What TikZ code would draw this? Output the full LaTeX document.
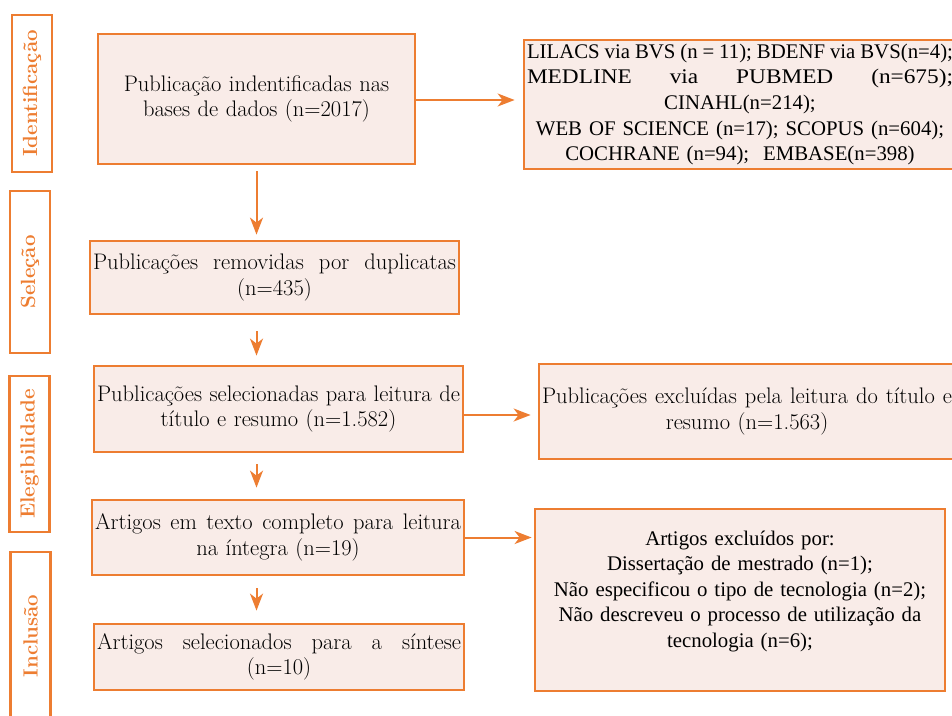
\documentclass[tikz,border=0pt]{standalone}
\usepackage{fontspec}
\usepackage{graphicx}
\newfontfamily\timesfont{Liberation Serif}
\usetikzlibrary{arrows.meta}
\definecolor{prismaorange}{RGB}{237,125,49}
\definecolor{prismafill}{RGB}{249,236,232}
\newcommand\fullline[1]{\makebox[\linewidth][s]{\spaceskip=0pt \xspaceskip=0pt #1}}
\newcommand\wide[1]{\scalebox{1.12}[1]{#1}}
\tikzset{% common styles of flow chart elements
  flowbox/.style  = {shape=rectangle, draw=prismaorange, fill=prismafill,
                     line width=2.8pt, align=center, inner xsep=3pt,
                     font=\fontsize{22.5}{25.5}\selectfont},
  sidebox/.style  = {flowbox, font=\timesfont\fontsize{20.8}{25.6}\selectfont},
  stage/.style    = {shape=rectangle, draw=prismaorange, line width=2.8pt,
                     rotate=90, text=prismaorange, minimum height=40pt,
                     font=\fontsize{20.5}{22}\selectfont\bfseries},
  arr/.style      = {draw=prismaorange, line width=2pt,
                     -{Stealth[length=17pt, width=13pt, inset=5pt]}},
}
\begin{document}
\begin{tikzpicture}[% pixel-like grid, y grows downwards
            x = 1pt, y = -1pt
        ]
        \useasboundingbox (0,0) rectangle (952,715);
        \clip (0,0) rectangle (952,715);
        % stages on the left
        \node [stage, minimum width=157] (s1) at (32,93.5)  {Identificação};
        \node [stage, minimum width=162] (s2) at (30,272)   {Seleção};
        \node [stage, minimum width=156] (s3) at (29.5,454) {Elegibilidade};
        \node [stage, minimum width=168] (s4) at (30.5,636) {Inclusão};
        % main column
        \node [flowbox, text width=311, minimum height=130] (b1) at (256.5,99)
              {Publicação indentificadas nas\\ bases de dados (n=2017)};
        \node [flowbox, text width=363, minimum height=73] (b2) at (274.5,277.5)
              {\fullline{Publicações removidas por duplicatas}\\ (n=435)};
        \node [flowbox, text width=363, minimum height=86] (b3) at (278.5,409)
              {\fullline{Publicações selecionadas para leitura de}\\ título e resumo (n=1.582)};
        \node [flowbox, text width=366, minimum height=75] (b4) at (278,537.5)
              {\fullline{Artigos em texto completo para leitura}\\ na íntegra (n=19)};
        \node [flowbox, text width=364, minimum height=66] (b5) at (279,657)
              {\fullline{Artigos selecionados para a síntese}\\ (n=10)};
        % side column
        \node [sidebox, text width=426, minimum height=129] (r1) at (740,104.5)
              {\fullline{LILACS via BVS (n = 11); BDENF via BVS(n=4);}\\
               \fullline{\wide{MEDLINE} \wide{via} \wide{PUBMED} \wide{(n=675);}}\\
               CINAHL(n=214);\\
               WEB OF SCIENCE (n=17); SCOPUS (n=604);\\
               COCHRANE (n=94);\ \ EMBASE(n=398)};
        \node [flowbox, text width=410, minimum height=95] (r2) at (747,411.5)
              {\fullline{Publicações excluídas pela leitura do título e}\\ resumo (n=1.563)};
        \node [sidebox, text width=404, minimum height=182] (r3) at (740,600)
              {Artigos excluídos por:\\
               Dissertação de mestrado (n=1);\\
               Não especificou o tipo de tecnologia (n=2);\\
               Não descreveu o processo de utilização da\\
               tecnologia (n=6);\rule[-22pt]{0pt}{0pt}};
        % connectors
        \draw [arr, shorten <=6pt, shorten >=5pt] (b1.south) -- (b2.north -| b1.south);
        \draw [arr, shorten <=16pt, shorten >=9pt] (b2.south -| b1.south) -- (b3.north -| b1.south);
        \draw [arr, shorten <=11pt, shorten >=11pt] (b3.south -| b1.south) -- (b4.north -| b1.south);
        \draw [arr, shorten <=12pt, shorten >=12pt] (b4.south -| b1.south) -- (b5.north -| b1.south);
        \draw [arr, shorten >=8pt] ([yshift=-1pt]b1.east) -- ([yshift=-1pt]b1.east -| r1.west);
        \draw [arr, shorten >=7pt] ([yshift=-6pt]b3.east) -- ([yshift=-6pt]b3.east -| r2.west);
        \draw [arr, shorten >=2pt] (b4.east) -- (b4.east -| r3.west);
    \end{tikzpicture}
\end{document}
